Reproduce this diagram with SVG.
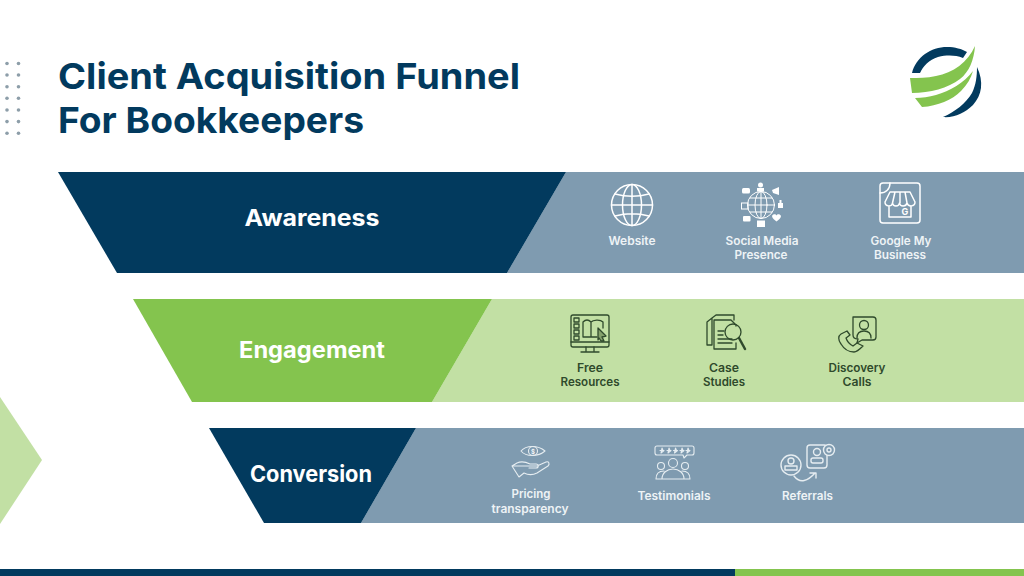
<svg xmlns="http://www.w3.org/2000/svg" width="1024" height="576" viewBox="0 0 1024 576">
<style>
text{font-family:"Inter","Open Sans","Liberation Sans",sans-serif;text-anchor:middle}
.title{font-size:36px;font-weight:700;fill:#023a5e;text-anchor:start}
.stage{font-size:22.500px;font-weight:700;fill:#fff}
.lw{font-size:11.500px;font-weight:600;fill:#eef3f6}
.lg{font-size:11.500px;font-weight:600;fill:#2f4a2c}
.iw{fill:none;stroke:#fff;stroke-width:1.500;stroke-linecap:round;stroke-linejoin:round}
.iw2{fill:none;stroke:#e6edf1;stroke-width:1.100;stroke-linecap:round;stroke-linejoin:round}
.ig{fill:none;stroke:#2f4a2c;stroke-width:1.300;stroke-linecap:round;stroke-linejoin:round}
.fw{fill:#fff}
.dot{fill:#8d9ea9}
</style>
<rect width="1024" height="576" fill="#fff"/>
<g id="decor">
<g class="dot">
<circle cx="7" cy="63.500" r="1.800"/><circle cx="18.500" cy="63.500" r="1.800"/>
<circle cx="7" cy="75" r="1.800"/><circle cx="18.500" cy="75" r="1.800"/>
<circle cx="7" cy="86.700" r="1.800"/><circle cx="18.500" cy="86.700" r="1.800"/>
<circle cx="7" cy="98.300" r="1.800"/><circle cx="18.500" cy="98.300" r="1.800"/>
<circle cx="7" cy="110" r="1.800"/><circle cx="18.500" cy="110" r="1.800"/>
<circle cx="7" cy="121.600" r="1.800"/><circle cx="18.500" cy="121.600" r="1.800"/>
<circle cx="7" cy="133.300" r="1.800"/><circle cx="18.500" cy="133.300" r="1.800"/>
</g>
<polygon points="0,397 0,524 42,460" fill="#c2e0a4"/>
<rect x="0" y="569" width="735" height="7" fill="#023a5e"/>
<rect x="735" y="569" width="289" height="7" fill="#84c44e"/>
</g>
<g id="title">
<text class="title" x="58" y="89" textLength="462" lengthAdjust="spacingAndGlyphs">Client Acquisition Funnel</text>
<text class="title" x="58" y="132.500" textLength="306" lengthAdjust="spacingAndGlyphs">For Bookkeepers</text>
</g>
<g id="logo">
<path d="M912,73 C916,57 931,47 947,47 C955,47 962,49 967,52 L963,58 C955,55 947,55 938,57 C929,60 923,66 920,73 Z" fill="#023a5e"/>
<path d="M975,46 C968,62 953,73 936,76 C927,78 918,78 910,78 L912,93 C930,93 948,88 960,79 C969,72 974,60 975,46 Z" fill="#84c44e"/>
<path d="M973,71 C964,83 950,91 936,95 C929,97 922,98 915,98 L922,107 C938,106 952,100 961,91 C967,85 971,78 973,71 Z" fill="#84c44e"/>
<path d="M977,67 C984,82 982,95 973,105 C965,113 954,118 943,117 C955,112 966,103 972,93 C976,85 977,76 977,67 Z" fill="#023a5e"/>
</g>
<g id="awareness">
<polygon points="507,172 1024,172 1024,273 507,273 566,172" fill="#7f9bb0"/>
<polygon points="58,172 566,172 507,273 117,273" fill="#023a5e"/>
<text class="stage" x="312" y="225.500" textLength="135" lengthAdjust="spacingAndGlyphs">Awareness</text>
</g>
<g id="engagement">
<polygon points="432,299 1024,299 1024,402 432,402 492,299" fill="#c2e0a4"/>
<polygon points="133,299 492,299 432,402 192,402" fill="#84c44e"/>
<text class="stage" x="312" y="357.500" textLength="146" lengthAdjust="spacingAndGlyphs">Engagement</text>
</g>
<g id="conversion">
<polygon points="361,428 1024,428 1024,523 361,523 416,428" fill="#7f9bb0"/>
<polygon points="209,428 416,428 361,523 264,523" fill="#023a5e"/>
<text class="stage" x="311" y="482" textLength="122" lengthAdjust="spacingAndGlyphs">Conversion</text>
</g>
<g id="website">
<g class="iw"><circle cx="632" cy="205" r="20.500"/><ellipse cx="632" cy="205" rx="9.500" ry="20.500"/><path d="M632,184.500V225.500M611.500,205H652.500M615,194C626,197 638,197 649,194M615,216C626,213 638,213 649,216"/></g>
<text class="lw" x="632" y="244.500" textLength="47" lengthAdjust="spacingAndGlyphs">Website</text>
</g>
<g id="social-media">
<g class="iw" style="stroke-width:1"><circle cx="761" cy="205" r="13.500"/><ellipse cx="761" cy="205" rx="6" ry="13.500"/><path d="M761,191.500V218.500M747.500,205H774.500M750,198H772M750,212H772"/></g>
<g class="fw">
<circle cx="760.500" cy="185" r="2.500"/><rect x="757" y="188" width="7" height="3.500"/>
<rect x="742" y="188" width="8" height="5.500" rx="1.500"/>
<path d="M772,190L779,187V195L773,193Z"/>
<rect x="741.500" y="203" width="6.500" height="6" fill="none" stroke="#fff"/>
<path d="M778,203H783V208H778Z"/><rect x="779.500" y="200" width="2" height="4"/>
<rect x="743" y="216" width="7.500" height="5.500" rx="1"/>
<path d="M772,216C773,213.500 776,214 776.500,215.500C777,214 780,213.500 781,216C781,218 778.500,220 776.500,221.500C774.500,220 772,218 772,216Z"/>
<rect x="757" y="220.500" width="8" height="6.500"/>
</g>
<text class="lw" x="762" y="244.500" textLength="73" lengthAdjust="spacingAndGlyphs">Social Media</text>
<text class="lw" x="761" y="258.500" textLength="53" lengthAdjust="spacingAndGlyphs">Presence</text>
</g>
<g id="google-business">
<g class="iw"><rect x="880" y="183" width="40" height="40" rx="3"/><path d="M880,193C886,193 890,189 890,183"/><path d="M890,192H910L915,202C915,207 908,207 907,203C906,207 900,207 899.500,203C899,207 893,207 892.500,203C892,207 885,207 885,202ZM889,206V217H911V206M895,192L892.500,203M905,192L907,203M900,192V203"/></g>
<text x="905" y="215" style="font-size:9px;font-weight:700;fill:#fff">G</text>
<text class="lw" x="901" y="244.500" textLength="61" lengthAdjust="spacingAndGlyphs">Google My</text>
<text class="lw" x="900" y="258.500" textLength="52" lengthAdjust="spacingAndGlyphs">Business</text>
</g>
<g id="free-resources">
<g class="ig"><rect x="571" y="315" width="38" height="32" rx="2"/><path d="M571,342H609M586,347V351M594,347V351M581,352H599M574,318H579V322H574ZM574,324H579V328H574ZM574,330H579V334H574ZM574,336H579V340H574ZM583,337V322C586,319 589,320 591,322C593,320 600,319 603,322V328M591,322V337M583,337H597"/><path d="M598,328L606,336L602,337L604,341L601,341L599,338L598,340Z" fill="#84a06c"/></g>
<text class="lg" x="590" y="371.500" textLength="26" lengthAdjust="spacingAndGlyphs">Free</text>
<text class="lg" x="590" y="386" textLength="59" lengthAdjust="spacingAndGlyphs">Resources</text>
</g>
<g id="case-studies">
<g class="ig"><path d="M712,318V345H707V322ZM712,318L716,315H734V320M714,320H731L736,325V326M714,320V349H736V343"/><path d="M718,331H724M718,335H723M718,339H732M718,343H732"/><circle cx="733" cy="332" r="8"/><path d="M739,338L745,349" style="stroke-width:2.500"/></g>
<text class="lg" x="724" y="371.500" textLength="30" lengthAdjust="spacingAndGlyphs">Case</text>
<text class="lg" x="724" y="386" textLength="42" lengthAdjust="spacingAndGlyphs">Studies</text>
</g>
<g id="discovery-calls">
<g class="ig"><path d="M853,317H873C875,317 876,318 876,320V337C876,339 875,340 873,340H862L857,343L858,339C855,339 853,338 853,335Z"/><circle cx="864" cy="325" r="4.500"/><path d="M857,338C857,333 860,331 864,331C868,331 871,333 871,338"/><path d="M847,331L841,334C838,336 838,340 841,344C844,349 849,352 854,352C857,352 859,350 863,346L857,343L853,346C849,344 847,341 846,338L850,335Z"/></g>
<text class="lg" x="857" y="371.500" textLength="57" lengthAdjust="spacingAndGlyphs">Discovery</text>
<text class="lg" x="857" y="386" textLength="29" lengthAdjust="spacingAndGlyphs">Calls</text>
</g>
<g id="pricing-transparency">
<g class="iw2"><path d="M521,451C526,445 538,445 545,451C538,457 526,457 521,451Z"/><circle cx="533" cy="451" r="4.500"/><path d="M512,466L517,463C521,461 526,462 530,464H536C539,464 539,468 536,468H529M537,466L546,462C549,461 550,464 548,466L537,473C533,475 528,475 524,473L519,477L512,466Z"/></g>
<text x="533" y="454" style="font-size:6px;fill:#fff;font-weight:600">$</text>
<text class="lw" x="531" y="498" textLength="39" lengthAdjust="spacingAndGlyphs">Pricing</text>
<text class="lw" x="530" y="512.500" textLength="77" lengthAdjust="spacingAndGlyphs">transparency</text>
</g>
<g id="testimonials">
<g class="iw2"><path d="M657,446H692C693,446 694,447 694,448V453C694,454 693,455 692,455H687L684,458L683,455H657C656,455 655,454 655,453V448C655,447 656,446 657,446Z"/><path d="M662,448L663,450.500L660,450.500L664,450.500L661,453L662,448ZM669,448L670,450.500L667,450.500L671,450.500L668,453L669,448ZM675.500,448L676.500,450.500L673.500,450.500L677.500,450.500L674.500,453L675.500,448ZM682,448L683,450.500L680,450.500L684,450.500L681,453L682,448ZM688,448L689,450.500L686,450.500L690,450.500L687,453L688,448Z"/><circle cx="661" cy="466" r="3.500"/><circle cx="673" cy="463" r="4.500"/><circle cx="685" cy="466" r="3.500"/><path d="M656,479C656,473 660,471 664,471M690,479C690,473 686,471 682,471M656,479H690M662,479C662,473 667,469 673,469C679,469 684,473 684,479"/></g>
<text class="lw" x="674" y="500" textLength="73" lengthAdjust="spacingAndGlyphs">Testimonials</text>
</g>
<g id="referrals">
<g class="iw2" style="stroke-width:1.400"><circle cx="791" cy="465" r="10"/><circle cx="791" cy="461" r="3"/><path d="M785,466H797V470H785Z"/><rect x="807" y="445" width="20" height="23" rx="3"/><circle cx="817" cy="452" r="3.500"/><rect x="811" y="458" width="12" height="5" rx="2"/><circle cx="829" cy="450" r="5.500" fill="#7f9bb0"/><circle cx="829" cy="450" r="2"/><path d="M794,476C800,484 808,481 815,473M810,473H816L816,478"/></g>
<text class="lw" x="807.500" y="500" textLength="51" lengthAdjust="spacingAndGlyphs">Referrals</text>
</g>
</svg>
